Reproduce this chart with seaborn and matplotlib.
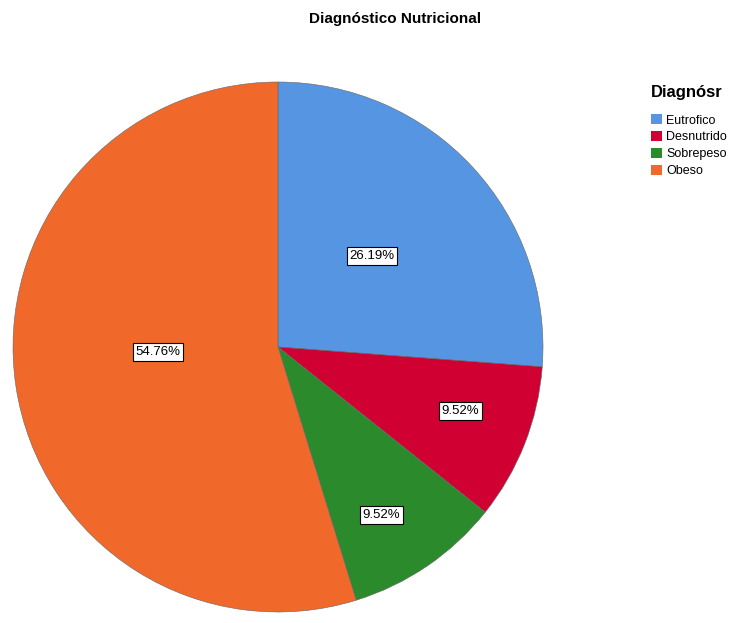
import matplotlib
matplotlib.use("Agg")
import matplotlib.pyplot as plt
import seaborn as sns
from matplotlib.patches import Patch

# Data
categories = ['Eutrofico', 'Desnutrido', 'Sobrepeso', 'Obeso']
percentages = [26.19, 9.52, 9.52, 54.76]
colors = ['#5595E2', '#D10032', '#2B8A2B', '#F0692B']
# label anchor points, in units of the pie radius
label_xy = [(0.355, 0.343), (0.687, -0.242), (0.389, -0.634), (-0.453, -0.019)]

sns.set_style("white")
plt.rcParams['font.family'] = ['Liberation Sans', 'DejaVu Sans']
plt.rcParams['text.color'] = 'black'

fig = plt.figure(figsize=(7.43, 6.23), dpi=100)
ax = fig.add_axes([13 / 743, 11 / 623, 530 / 743, 530 / 623])

wedges, texts = ax.pie(
    percentages, colors=colors, startangle=90, counterclock=False,
    wedgeprops=dict(linewidth=0.4, edgecolor='#666666'))
ax.set_xlim(-1, 1)
ax.set_ylim(-1, 1)
ax.set_aspect('equal')

for (x, y), p in zip(label_xy, percentages):
    ax.text(x, y, f'{p:.2f}%', ha='center', va='center', fontsize=9.5,
            color='black',
            bbox=dict(boxstyle='square,pad=0.2', facecolor='white',
                      edgecolor='black', linewidth=0.8))

fig.text(395 / 743, 1 - 19 / 623, 'Diagnóstico Nutricional',
         ha='center', va='center', fontsize=11, fontweight='bold')

fig.text(651 / 743, 1 - 93 / 623, 'Diagnósr', ha='left', va='center',
         fontsize=12, fontweight='bold')
handles = [Patch(facecolor=c, edgecolor='none') for c in colors]
leg = fig.legend(handles, categories,
                 loc='upper left', bbox_to_anchor=(651 / 743, 1 - 114 / 623),
                 frameon=False, fontsize=9, handlelength=0.9,
                 handleheight=0.9, handletextpad=0.3, labelspacing=0.35,
                 borderaxespad=0, borderpad=0)

fig.savefig('out.png', dpi=100)
